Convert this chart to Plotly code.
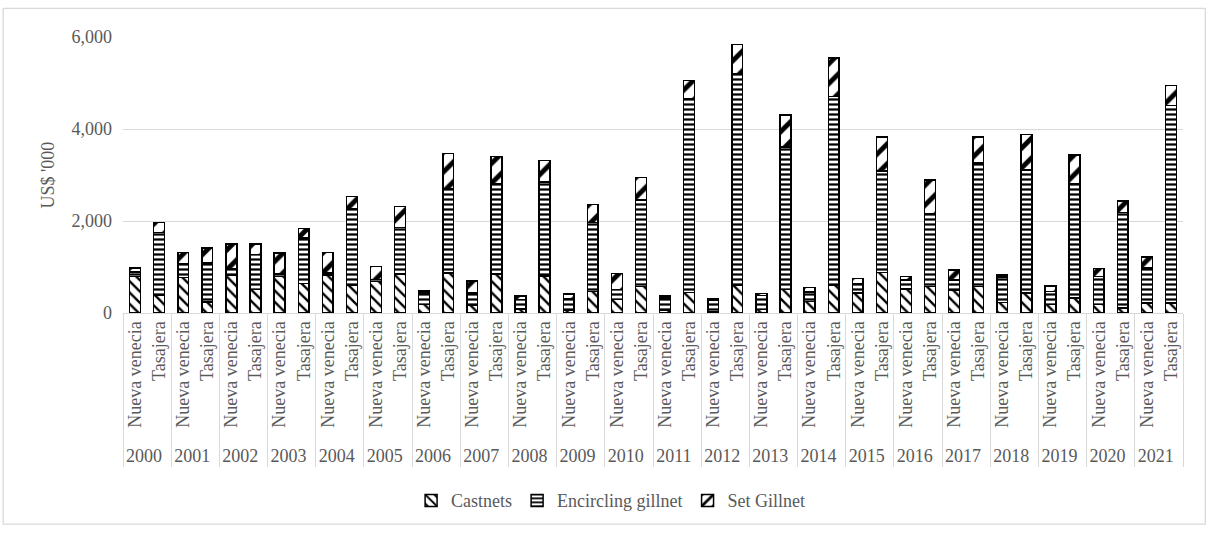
import plotly.graph_objects as go

years = [str(y) for y in range(2000, 2022)]
sites = ["Nueva venecia", "Tasajera"]

castnets = [790, 380, 770, 240, 830, 510, 790, 645, 810, 610, 680, 850,
            180, 865, 170, 850, 90, 800, 60, 470, 295, 578, 50, 445,
            30, 600, 80, 515, 250, 610, 440, 880, 520, 578, 491, 578,
            231, 433, 180, 325, 180, 108, 217, 217]
encircling = [100, 1365, 300, 845, 140, 760, 60, 990, 55, 1650, 50, 1005,
              260, 1830, 270, 1970, 200, 2050, 240, 1495, 220, 1877, 280, 4210,
              250, 4600, 300, 3095, 210, 4095, 205, 2210, 200, 1575, 230, 2685,
              550, 2672, 290, 2490, 615, 2072, 758, 4296]
set_gillnet = [85, 220, 250, 330, 530, 235, 455, 200, 455, 270, 280, 460,
               35, 770, 260, 580, 75, 460, 110, 395, 345, 491, 35, 400,
               35, 635, 40, 690, 95, 835, 110, 740, 75, 737, 215, 565,
               50, 772, 120, 615, 175, 253, 238, 433]

xy = [y for y in years for _ in sites]
xs = [s for _ in years for s in sites]

FONT = "Liberation Serif, Times New Roman, serif"
GRAY = "#595959"

series = [
    ("Castnets", castnets, dict(shape="\\", size=8, solidity=0.3)),
    ("Encircling gillnet", encircling, dict(shape="-", size=5, solidity=0.45)),
    ("Set Gillnet", set_gillnet, dict(shape="/", size=14, solidity=0.35)),
]

fig = go.Figure()
for name, vals, pat in series:
    fig.add_trace(go.Bar(
        name=name, x=[xy, xs], y=vals,
        marker=dict(color="white", line=dict(color="black", width=1.5),
                    pattern=dict(fgcolor="black", bgcolor="white", fillmode="replace", **pat)),
    ))

fig.update_layout(
    barmode="stack", bargap=0.55,
    width=1213, height=533,
    margin=dict(l=123, r=30, t=37, b=220),
    plot_bgcolor="white", paper_bgcolor="white",
    font=dict(family=FONT, size=18, color=GRAY),
    showlegend=True,
    legend=dict(orientation="h", x=0.46, xanchor="center", y=-0.68, yanchor="middle",
                font=dict(family=FONT, size=18, color=GRAY), itemwidth=30,
                traceorder="normal"),
    yaxis=dict(range=[0, 6000], tickvals=[0, 2000, 4000, 6000], tickformat=",",
               showgrid=True, gridcolor="#d9d9d9", gridwidth=1.3, zeroline=False,
               showline=False, ticks="", ticklabelstandoff=10,
               tickfont=dict(family=FONT, size=18, color=GRAY),
               title=dict(text="US$ '000", font=dict(family=FONT, size=18, color=GRAY), standoff=12)),
    xaxis=dict(type="multicategory", tickangle=-90, showline=True, linecolor="#d9d9d9",
               linewidth=1.3, showdividers=True, dividercolor="#d9d9d9", dividerwidth=1.3,
               tickfont=dict(family=FONT, size=18, color=GRAY), ticks=""),
)

fig.add_shape(type="rect", xref="paper", yref="paper",
              x0=-0.113, x1=1.021, y0=-0.765, y1=1.104,
              line=dict(color="#d9d9d9", width=1.3), fillcolor="rgba(0,0,0,0)", layer="below")

fig.write_html("out.html")
